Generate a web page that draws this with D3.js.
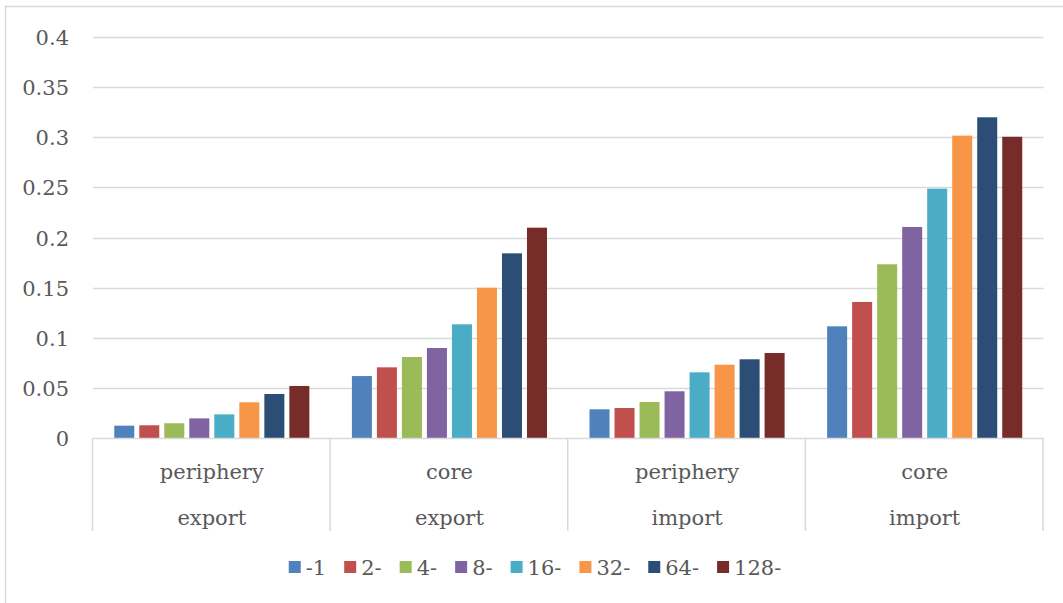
<!DOCTYPE html>
<html>
<head>
<meta charset="utf-8">
<script src="https://cdn.jsdelivr.net/npm/d3@7"></script>
<style>
  html, body { margin: 0; padding: 0; background: #fff; }
  svg text { font-family: "DejaVu Serif", "Liberation Serif", serif; fill: #595959; }
</style>
</head>
<body>
<svg id="chart" width="1063" height="603"></svg>
<script>
// Share values per group (flow direction + position), one series per bin
const groups = [
  { top: "periphery", bottom: "export" },
  { top: "core", bottom: "export" },
  { top: "periphery", bottom: "import" },
  { top: "core", bottom: "import" }
];
const seriesNames = ["-1", "2-", "4-", "8-", "16-", "32-", "64-", "128-"];
const seriesColors = ["#4f81bd", "#c0504d", "#9bbb59", "#8064a2", "#4bacc6", "#f79646", "#2c4d75", "#772c2a"];

const binMinus1  = [0.0123, 0.0618, 0.0286, 0.1114];
const bin2       = [0.0127, 0.0705, 0.0299, 0.1357];
const bin4       = [0.0147, 0.0808, 0.0359, 0.1733];
const bin8       = [0.0196, 0.0898, 0.0466, 0.2105];
const bin16      = [0.0236, 0.1134, 0.0655, 0.2487];
const bin32      = [0.0356, 0.1499, 0.0731, 0.3016];
const bin64      = [0.0439, 0.1842, 0.0785, 0.3199];
const bin128     = [0.0519, 0.2098, 0.0848, 0.3005];
const seriesValues = [binMinus1, bin2, bin4, bin8, bin16, bin32, bin64, bin128];

const yTicks = [0, 0.05, 0.1, 0.15, 0.2, 0.25, 0.3, 0.35, 0.4];
const yTickLabels = ["0", "0.05", "0.1", "0.15", "0.2", "0.25", "0.3", "0.35", "0.4"];

const svg = d3.select("#chart");
const W = 1063, H = 603;
const plot = { left: 93, right: 1043.5, top: 37, bottom: 438 };

// chart frame
svg.append("rect")
  .attr("x", 5.5).attr("y", 6.5)
  .attr("width", 1070).attr("height", 610)
  .attr("fill", "none").attr("stroke", "#d9d9d9").attr("stroke-width", 1.5);

const y = d3.scaleLinear().domain([0, 0.4]).range([plot.bottom, plot.top]);
const x0 = d3.scaleBand().domain(d3.range(groups.length)).range([plot.left, plot.right]).padding(0);
const gw = x0.bandwidth();
// 150% gap between groups, bars with small white separation
const x1 = d3.scaleBand().domain(d3.range(seriesNames.length))
  .range([gw * 0.75 / 9.5, gw - gw * 0.75 / 9.5])
  .paddingInner(0.2).paddingOuter(0.1);

// gridlines
svg.append("g").selectAll("line").data(yTicks.slice(1)).join("line")
  .attr("x1", plot.left).attr("x2", plot.right)
  .attr("y1", d => Math.round(y(d)) + 0.5).attr("y2", d => Math.round(y(d)) + 0.5)
  .attr("stroke", "#d9d9d9").attr("stroke-width", 1.5);

// y labels
svg.append("g").selectAll("text").data(yTicks).join("text")
  .attr("x", 69).attr("y", d => y(d) + 8)
  .attr("text-anchor", "end").attr("font-size", 21)
  .text((d, i) => yTickLabels[i]);

// bars
const gBars = svg.append("g");
groups.forEach((g, gi) => {
  gBars.append("g").attr("transform", `translate(${x0(gi)},0)`)
    .selectAll("rect").data(seriesValues.map((vals, si) => ({ si, v: vals[gi] }))).join("rect")
    .attr("x", d => x1(d.si))
    .attr("width", x1.bandwidth())
    .attr("y", d => y(d.v))
    .attr("height", d => y(0) - y(d.v))
    .attr("fill", d => seriesColors[d.si]);
});

// category axis line and separators
const axisG = svg.append("g");
axisG.append("line")
  .attr("x1", plot.left).attr("x2", plot.right)
  .attr("y1", plot.bottom + 0.5).attr("y2", plot.bottom + 0.5)
  .attr("stroke", "#d9d9d9").attr("stroke-width", 1.5);
axisG.selectAll("line.sep").data(d3.range(groups.length + 1)).join("line")
  .attr("class", "sep")
  .attr("x1", i => (i < groups.length ? x0(i) : plot.right) - 0.5)
  .attr("x2", i => (i < groups.length ? x0(i) : plot.right) - 0.5)
  .attr("y1", plot.bottom).attr("y2", 531)
  .attr("stroke", "#d9d9d9").attr("stroke-width", 1.5);

axisG.selectAll("text.top").data(groups).join("text")
  .attr("class", "top")
  .attr("x", (d, i) => x0(i) + gw / 2).attr("y", 479)
  .attr("text-anchor", "middle").attr("font-size", 21)
  .text(d => d.top);
axisG.selectAll("text.bottom").data(groups).join("text")
  .attr("class", "bottom")
  .attr("x", (d, i) => x0(i) + gw / 2).attr("y", 525)
  .attr("text-anchor", "middle").attr("font-size", 21)
  .text(d => d.bottom);

// legend, laid out from measured text widths and centred
const legend = svg.append("g");
const items = legend.selectAll("g").data(seriesNames).join("g");
items.append("rect").attr("width", 12).attr("height", 12).attr("y", 561)
  .attr("fill", (d, i) => seriesColors[i]);
items.append("text").attr("x", 17).attr("y", 575).attr("font-size", 21).text(d => d);
let cx = 0;
const offsets = [];
items.each(function () {
  offsets.push(cx);
  const tw = d3.select(this).select("text").node().getComputedTextLength();
  cx += 17 + tw + 18;
});
const totalW = cx - 18;
const startX = 535 - totalW / 2;
items.attr("transform", (d, i) => `translate(${startX + offsets[i]},0)`);
</script>
</body>
</html>
